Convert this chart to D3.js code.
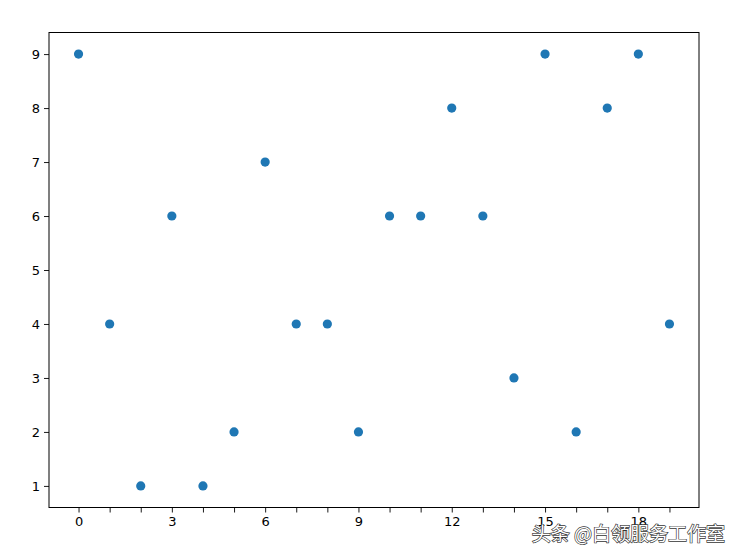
<!DOCTYPE html>
<html><head><meta charset="utf-8">
<script src="https://cdn.jsdelivr.net/npm/d3@7"></script>
<style>body{margin:0;background:#fff}svg{display:block}</style>
</head><body>
<svg id="c" width="740" height="559"></svg>
<script>
const xValues = [0,1,2,3,4,5,6,7,8,9,10,11,12,13,14,15,16,17,18,19];
const yValues = [9,4,1,6,1,2,7,4,4,2,6,6,8,6,3,9,2,8,9,4];
const xTickLabels = [0,3,6,9,12,15,18];
const yTickLabels = [1,2,3,4,5,6,7,8,9];
const watermark = "头条 @白领服务工作室";

const svg = d3.select("#c");
const L=49, R=699, T=32.5, B=507.5;
const x = d3.scaleLinear().domain([-0.95,19.95]).range([L,R]);
const y = d3.scaleLinear().domain([0.6,9.4]).range([B,T]);

const font = "DejaVu Sans, sans-serif";
const xAxis = d3.axisBottom(x).tickValues(d3.range(0,20)).tickSize(5).tickPadding(4)
  .tickFormat(d => xTickLabels.includes(d) ? d : "");
const gx = svg.append("g").attr("transform",`translate(0,${B})`).call(xAxis);
const yAxis = d3.axisLeft(y).tickValues(yTickLabels).tickSize(5).tickPadding(4);
const gy = svg.append("g").attr("transform",`translate(${L},0)`).call(yAxis);
[gx,gy].forEach(g=>{
  g.select(".domain").remove();
  g.selectAll("text").attr("font-family",font).attr("font-size",13).attr("fill","#000");
  g.selectAll("line").attr("stroke","#000").attr("stroke-width",0.9);
});

svg.append("rect").attr("x",L).attr("y",T).attr("width",R-L).attr("height",B-T)
  .attr("fill","none").attr("stroke","#000").attr("stroke-width",1);

svg.append("g").selectAll("circle").data(xValues).join("circle")
  .attr("cx",(d)=>x(d)).attr("cy",(d,i)=>y(yValues[i])).attr("r",4.6)
  .attr("fill","#1f77b4");

svg.append("text").attr("x",725).attr("y",541).attr("text-anchor","end")
  .attr("font-family","Noto Sans CJK SC, sans-serif").attr("font-size",19)
  .attr("fill","#fff").attr("stroke","#333").attr("stroke-width",1.3)
  .attr("paint-order","stroke").text(watermark);
</script>
</body></html>
